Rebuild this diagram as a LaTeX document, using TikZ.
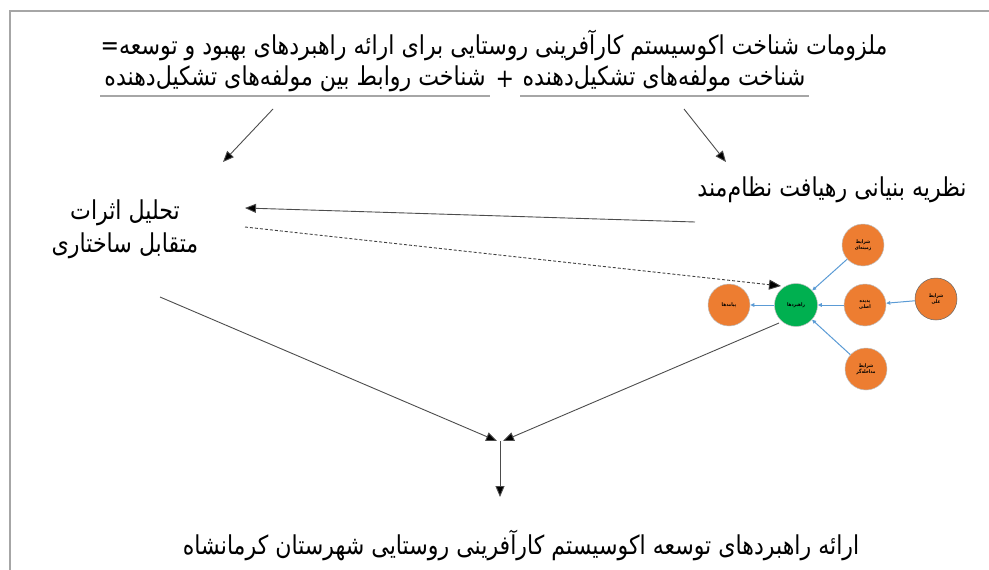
\documentclass[tikz,border=0pt]{standalone}
\usepackage{fontspec}
\usetikzlibrary{arrows.meta}
\TeXXeTstate=1
\newfontfamily\fa[Script=Arabic,FakeStretch=0.85]{DejaVu Sans}
\definecolor{orng}{HTML}{ED7D31}
\definecolor{grn}{HTML}{00B050}
\definecolor{lblue}{HTML}{5B9BD5}
\definecolor{frame}{HTML}{A6A6A6}
\begin{document}
\begin{tikzpicture}[x=1pt,y=-1pt,
  txt/.style={inner sep=0pt, font=\fa\fontsize{26}{30}\selectfont},
  arr/.style={draw=black!70, line width=0.9pt, -{Triangle[length=11pt,width=9pt,fill=black]}},
  dsh/.style={draw=black!75, line width=0.9pt, dash pattern=on 3pt off 2pt, -{Triangle[length=12pt,width=10pt,fill=black]}},
  ul/.style={draw=frame, line width=2pt},
  oc/.style={circle, fill=orng, draw=black!25, line width=0.5pt, minimum size=42pt, inner sep=0pt, align=center, font=\fa\fontsize{5}{6.5}\selectfont\bfseries},
  gc/.style={circle, fill=grn, draw=black!25, line width=0.5pt, minimum size=43pt, inner sep=0pt, align=center, font=\fa\fontsize{5}{6.5}\selectfont\bfseries},
  bl/.style={draw=lblue, line width=1pt, -{Triangle[length=4pt,width=3.5pt]}}]
\useasboundingbox (0,0) rectangle (989,570);
\draw[draw=frame, line width=2pt] (10,570) -- (10,11) -- (989,11);

% title
\node[txt] (t1) at (494,45) {\beginR ملزومات شناخت اکوسیستم کارآفرینی روستایی برای ارائه راهبردهای بهبود و توسعه=\endR};
\node[txt] (t2r) at (664,79) {\beginR شناخت مولفه‌های تشکیل‌دهنده\endR};
\node[txt] (plus) at (505,79) {+};
\node[txt] (t2l) at (295,79) {\beginR شناخت روابط بین مولفه‌های تشکیل‌دهنده\endR};
\coordinate (ulra) at (520,96); \coordinate (ulrb) at (809,96);
\coordinate (ulla) at (100,96); \coordinate (ullb) at (490,96);
\draw[ul] (ulra) -- (ulrb);
\draw[ul] (ulla) -- (ullb);

% side texts
\node[txt, align=center] (tah) at (125,229) {\beginR تحلیل اثرات\endR\\[3pt]\beginR متقابل ساختاری\endR};
\node[txt] (naz) at (832,190) {\beginR نظریه بنیانی رهیافت نظام‌مند\endR};
\node[txt] (out) at (521,545) {\beginR ارائه راهبردهای توسعه اکوسیستم کارآفرینی روستایی شهرستان کرمانشاه\endR};

% circles
\node[gc] (g) at (796,305) {\beginR راهبردها\endR};
\node[oc] (pay) at (729,305) {\beginR پیامدها\endR};
\node[oc] (zam) at (863,245) {\beginR شرایط\endR\\\beginR زمینه‌ای\endR};
\node[oc] (pad) at (865,305) {\beginR پدیده\endR\\\beginR اصلی\endR};
\node[oc, draw=black!60] (ali) at (936,299) {\beginR شرایط\endR\\\beginR علی\endR};
\node[oc] (mod) at (866,369) {\beginR شرایط\endR\\\beginR مداخله‌گر\endR};
\draw[bl] (zam) -- (g);
\draw[bl] (pad) -- (g);
\draw[bl] (ali) -- (pad);
\draw[bl] (mod) -- (g);
\draw[bl] (g) -- (pay);

% black arrows
\coordinate (a1s) at (273,109); \coordinate (a1e) at (223,162);
\coordinate (a2s) at (684,109); \coordinate (a2e) at (726,162);
\draw[arr] (a1s) -- (a1e);
\draw[arr] (a2s) -- (a2e);
\coordinate (s3) at (695,222); \coordinate (e3) at (245,208);
\draw[arr] (s3) -- (e3);
\coordinate (s4) at (245,227); \coordinate (e4) at (781,286);
\draw[dsh] (s4) -- (e4);
\coordinate (s5) at (160,297); \coordinate (m) at (500,441);
\coordinate (e5) at (497,441); \coordinate (e6) at (503,441);
\coordinate (s6) at (779,323);
\draw[arr] (s5) -- (e5);
\draw[arr] (s6) -- (e6);
\coordinate (e7) at (500,497);
\draw[arr] (m) -- (e7);
\end{tikzpicture}
\end{document}
